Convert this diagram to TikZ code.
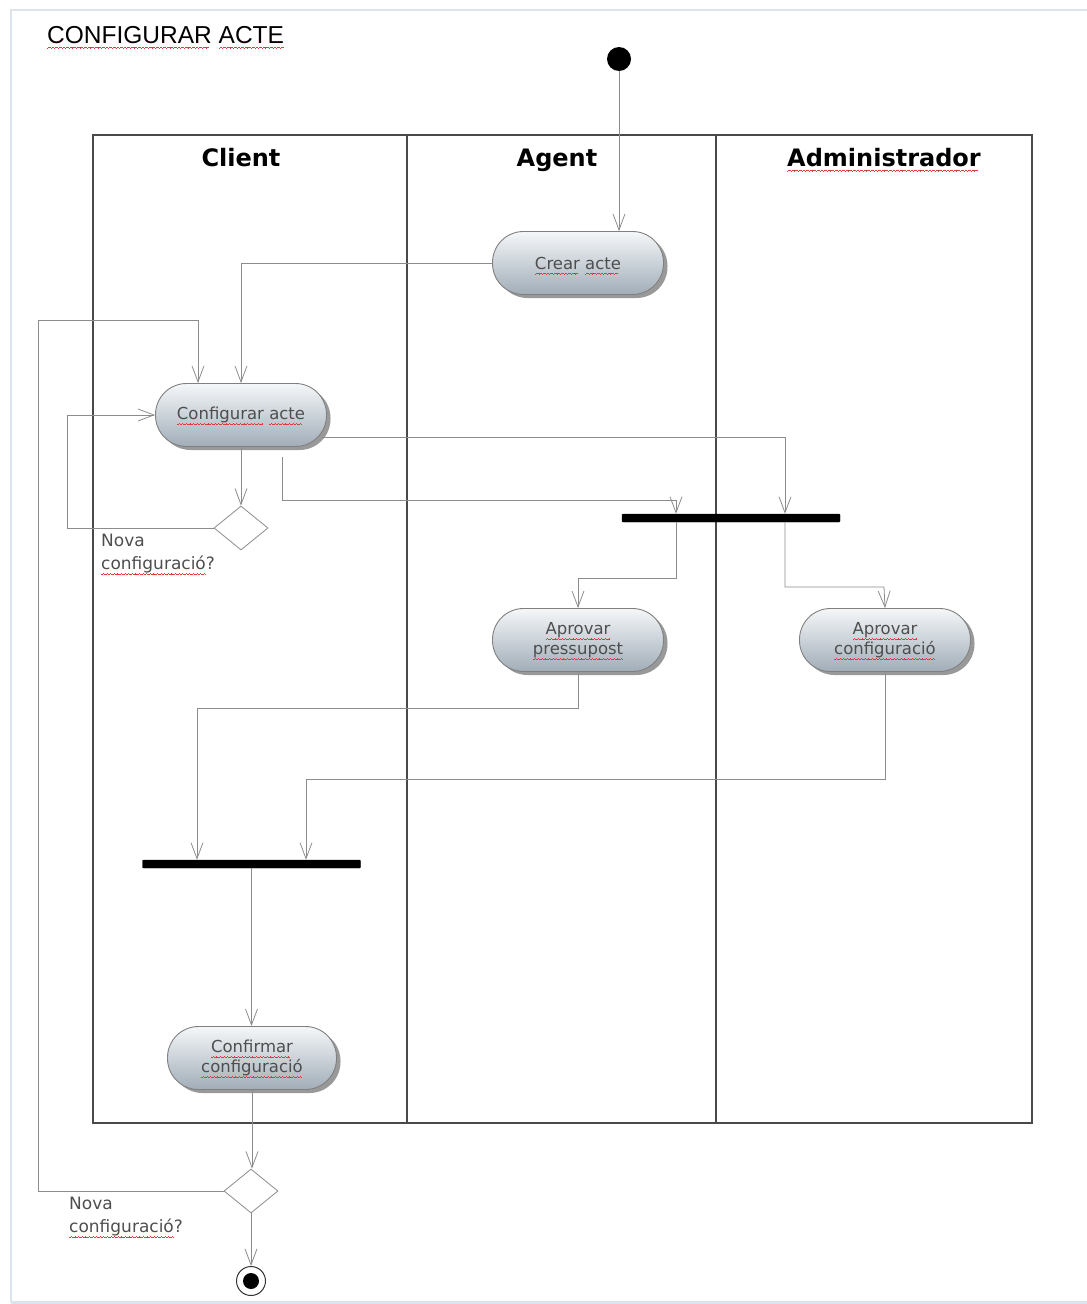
\documentclass[tikz,border=0pt]{standalone}
\usepackage{fontspec}
\usetikzlibrary{arrows.meta,shapes.geometric,shadows,calc}
\newfontfamily\djs{DejaVu Sans}
\newfontfamily\arialf{Liberation Sans}
\definecolor{txt}{HTML}{4E4E4E}
\definecolor{wavy}{HTML}{E23A3A}
\definecolor{lanec}{HTML}{4A4A4A}
\definecolor{flowc}{HTML}{8C8C8C}
\definecolor{framec}{HTML}{DCE3EC}
\definecolor{acttop}{HTML}{F5F7F9}
\definecolor{actbot}{HTML}{A1ADB8}
\newsavebox\sqbox
\newcommand\wavebit{\textcolor{wavy}{\rule[-5.4pt]{0.9pt}{0.6pt}\rule[-4.8pt]{0.9pt}{0.6pt}\rule[-4.2pt]{0.9pt}{0.6pt}\rule[-4.8pt]{0.9pt}{0.6pt}}}
\newcommand\squig[1]{\sbox\sqbox{#1}\leavevmode\rlap{\smash{\hbox to \wd\sqbox{\leaders\hbox{\wavebit}\hfill}}}\usebox\sqbox}
\begin{document}
\begin{tikzpicture}[x=1pt,y=-1pt,
  flow/.style={draw=flowc, line width=0.8pt, -{Straight Barb[length=16pt,width=12pt,line width=0.8pt]}},
  act/.style={rectangle, rounded corners=31pt, minimum width=171pt, minimum height=63pt,
    draw=black!50, line width=0.9pt, top color=acttop, bottom color=actbot,
    drop shadow={shadow xshift=4pt, shadow yshift=-3.5pt, fill=black, opacity=0.4},
    font=\djs\fontsize{16.5}{20}\selectfont, text=txt, align=center, inner sep=2pt},
  syncbar/.style={rectangle, fill=black, draw=black, rounded corners=1pt, minimum width=218pt, minimum height=8pt, inner sep=0pt},
  decision/.style={diamond, draw=flowc, line width=0.8pt, fill=white, minimum width=54pt, minimum height=44pt, inner sep=0pt},
  lanehead/.style={font=\djs\bfseries\fontsize{24}{28}\selectfont, text=black, inner sep=0pt, anchor=base},
  guard/.style={font=\djs\fontsize{17}{23}\selectfont, text=txt, align=left, inner sep=0pt, anchor=north west},
]
\useasboundingbox (0,0) rectangle (1087,1304);
% page frame
\draw[framec, line width=1.2pt] (1087,10) -- (11,10) -- (11,1302);
\fill[framec] (11,1301) rectangle (1087,1304);

% title
\node[anchor=base west, inner sep=0pt, font=\arialf\fontsize{24.5}{28}\selectfont, text=black] (title) at (47,43) {\squig{CONFIGURAR} \squig{ACTE}};

% swimlanes
\draw[lanec, line width=1.2pt] (93,135) rectangle (1032,1123);
\draw[lanec, line width=1.2pt] (407,135) -- (407,1123);
\draw[lanec, line width=1.2pt] (716,135) -- (716,1123);
\node[lanehead] (hclient) at (241,166) {Client};
\node[lanehead] (hagent) at (557,166) {Agent};
\node[lanehead] (hadmin) at (884,166) {\squig{Administrador}};

% nodes
\node[circle, fill=black, minimum size=24pt, inner sep=0pt] (start) at (619,59) {};
\node[act] (crear) at (578,263) {\squig{Crear} \squig{acte}};
\node[act] (conf) at (241,415) {\squig{Configurar} \squig{acte}};
\node[decision] (d1) at (241,528) {};
\node[guard] (g1) at (101,534) {Nova\\\squig{configuració}?};
\node[syncbar] (fork) at (731,518) {};
\node[act] (ap) at (578,640) {\squig{Aprovar}\\\squig{pressupost}};
\node[act] (ac) at (885,640) {\squig{Aprovar}\\\squig{configuració}};
\node[syncbar] (join) at (251.5,864) {};
\node[act, minimum width=169pt] (cc) at (252,1058) {\squig{Confirmar}\\\squig{configuració}};
\node[decision] (d2) at (251,1191) {};
\node[guard] (g2) at (69,1197) {Nova\\\squig{configuració}?};
\node[circle, draw=black!80, line width=1pt, fill=white, minimum size=29pt, inner sep=0pt] (fin) at (251,1281) {};
\node[circle, fill=black, minimum size=16pt, inner sep=0pt] (finin) at (fin.center) {};

% turning points
\coordinate (cloop) at (38,320);
\coordinate (cself) at (67,415);
\coordinate (s6) at (322,437);
\coordinate (s7) at (282,457);
\coordinate (c7) at (676,500);
\coordinate (c8) at (578,578);
\coordinate (c9) at (884,587);
\coordinate (c10) at (197,708);
\coordinate (c11) at (306,779);

% connectors
\draw[flow] (start.south) -- (start.south |- crear.north);
\draw[flow] (crear.west) -| (conf.north);
\draw[flow] (d2.west) -| (cloop) -| ([xshift=-43pt]conf.north);
\draw[flow] (conf.south) -- (d1.north);
\draw[flow] (d1.west) -| (cself) -- (conf.west);
\draw[flow] (s6) -| ([xshift=54pt]fork.north);
\draw[flow] (s7) |- (c7) -- ([xshift=-55pt]fork.north);
\draw[flow] ([xshift=-55pt]fork.south) |- (c8) -- (ap.north);
\draw[flow] ([xshift=54pt]fork.south) |- (c9) -- (ac.north);
\draw[flow] (ap.south) |- (c10) -- ([xshift=-54.5pt]join.north);
\draw[flow] (ac.south) |- (c11) -- ([xshift=54.5pt]join.north);
\draw[flow] (join.south) -- (join.south |- cc.north);
\draw[flow] (cc.south) -- (cc.south |- d2.north);
\draw[flow] (d2.south) -- (fin.north);
\end{tikzpicture}
\end{document}
